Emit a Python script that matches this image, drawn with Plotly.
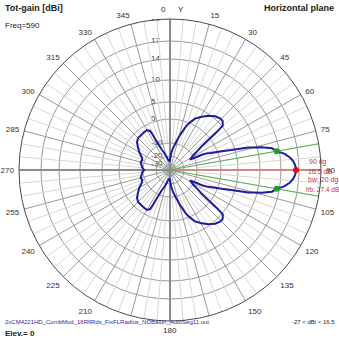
import numpy as np
import plotly.graph_objects as go

# ---- data -----------------------------------------------------------
angle_deg = [0, 4, 8, 12, 16, 20, 23, 26, 30, 35, 40, 44, 47, 50, 51, 52, 53, 55, 58, 61, 62,
             63.5, 64.5, 66, 67, 70, 72, 74, 75, 76, 78, 80, 82, 84, 86, 88, 90,
             92, 94, 96, 98, 100, 102, 104, 105, 106, 108, 110, 113, 114, 115.5, 116.5, 118,
             119, 122, 125, 127, 128, 129, 130, 133, 136, 140, 145, 150, 154, 157, 160, 164,
             168, 172, 176, 180,
             184, 188, 191, 195, 199, 202, 204, 205, 206, 207, 210, 215, 220, 225, 230, 235,
             240, 245, 250, 255, 260, 265, 270, 275, 280, 285, 290, 295, 300, 305, 310, 315,
             320, 325, 330, 333, 334, 335, 336, 338, 341, 345, 349, 352, 356, 360]
gain_dbi = [-25, -18, -13.5, -9.5, -6, -2, 0.3, 1.8, 3.0, 4.5, 5.5, 5.9, 5.9, 5.2, 2.6, -1, -4.6, -7, -10, -12.5, -13.5,
            -10, -6.5, -4, -3, 1.2, 4, 8, 9.3, 10.8, 12.7, 13.5, 14.8, 15.6, 16.1, 16.4, 16.5,
            16.4, 16.1, 15.6, 14.8, 13.5, 12.7, 10.8, 9.3, 8, 4, 1.2, -3, -4, -6.5, -10, -13.5,
            -12.5, -10, -7, -4.6, -1, 2.6, 5.2, 5.9, 5.9, 5.5, 4.5, 3.0, 1.8, 0.3, -2, -6,
            -9.5, -13.5, -18, -25,
            -27, -25, -24, -20, -16.5, -14, -10, -8, -5, -3, -2, -2.2, -2.4, -2.4, -3.3, -5,
            -6.5, -8.2, -9.0, -8.6, -9.2, -9.6, -10.9, -9.6, -9.2, -8.6, -9.0, -8.2, -6.5, -5, -3.3, -2.4,
            -2.4, -2.2, -2, -3, -5, -8, -10, -14, -16.5, -20, -24, -25, -27, -25]

ring_db = [-30, -20, -10, 0, 5, 10, 14, 17, 20]
ring_labels = ["-30", "-20", "-10", "0", "5", "10", "14", "17", "20"]
angle_ticks = list(range(0, 360, 15))
angle_labels = ["" if a in (0, 165, 180, 195) else str(a) for a in angle_ticks]

max_dir = [90]
max_gain = [16.5]
bw_dirs = [80, 100]
bw_gain = [13.5, 13.5]

# ---- scale (EZNEC style log grid) -----------------------------------
ring_r = [6, 14, 27, 51, 68, 90, 111, 129, 151]
R = 151


def to_r(db):
    return np.interp(db, ring_db, ring_r)


W = H = 339
dom_x = [19 / W, 321 / W]
dom_y = [18 / H, 320 / H]

fig = go.Figure()

# light 5-degree radials
lt, lr = [], []
for a in range(0, 360, 5):
    if a % 15:
        lt += [a, a, None]
        lr += [to_r(-10), R, None]
fig.add_trace(go.Scatterpolar(r=lr, theta=lt, mode="lines",
                              line=dict(color="#d6d6d6", width=1), hoverinfo="skip", showlegend=False))

# main axes (thicker)
fig.add_trace(go.Scatterpolar(r=[R, 0, R], theta=[0, 0, 180], mode="lines",
                              line=dict(color="#8c8c8c", width=2), hoverinfo="skip", showlegend=False))
fig.add_trace(go.Scatterpolar(r=[R, 0, R], theta=[270, 270, 90], mode="lines",
                              line=dict(color="#8c8c8c", width=2), hoverinfo="skip", showlegend=False))

# max direction + beamwidth lines
fig.add_trace(go.Scatterpolar(r=[0, R], theta=[max_dir[0]] * 2, mode="lines",
                              line=dict(color="#cc8a8a", width=2), hoverinfo="skip", showlegend=False))
for d in bw_dirs:
    fig.add_trace(go.Scatterpolar(r=[0, R], theta=[d, d], mode="lines",
                                  line=dict(color="#55b055", width=1), hoverinfo="skip", showlegend=False))

# pattern
fig.add_trace(go.Scatterpolar(r=to_r(np.array(gain_dbi)), theta=angle_deg, mode="lines",
                              line=dict(color="#1c1c9c", width=2), showlegend=False))

fig.add_trace(go.Scatterpolar(r=to_r(np.array(bw_gain)), theta=bw_dirs, mode="markers",
                              marker=dict(color="#1fa01f", size=6), showlegend=False))
fig.add_trace(go.Scatterpolar(r=to_r(np.array(max_gain)), theta=max_dir, mode="markers",
                              marker=dict(color="#e01010", size=6), showlegend=False))

# ring labels on an overlaid cartesian frame
fig.add_trace(go.Scatter(x=[-19] * len(ring_r), y=ring_r, mode="text", text=ring_labels,
                         textposition="middle right",
                         textfont=dict(size=8, color="#303030", family="Liberation Sans"),
                         hoverinfo="skip", showlegend=False))

fig.update_layout(
    width=W, height=H, margin=dict(l=0, r=0, t=0, b=0),
    paper_bgcolor="white", plot_bgcolor="rgba(0,0,0,0)",
    xaxis=dict(domain=dom_x, range=[-R, R], visible=False, fixedrange=True),
    yaxis=dict(domain=dom_y, range=[-R, R], visible=False, fixedrange=True),
    polar=dict(
        domain=dict(x=dom_x, y=dom_y),
        bgcolor="rgba(0,0,0,0)",
        angularaxis=dict(rotation=90, direction="clockwise", tickmode="array",
                         tickvals=angle_ticks, ticktext=angle_labels,
                         ticks="outside", ticklen=3, tickcolor="rgba(0,0,0,0)",
                         showgrid=True, gridcolor="#9a9a9a", gridwidth=1,
                         showline=True, linecolor="#4a4a4a", linewidth=1,
                         tickfont=dict(size=8, color="#303030", family="Liberation Sans")),
        radialaxis=dict(range=[0, R], tickvals=ring_r, showticklabels=False, ticks="",
                        showline=False, showgrid=True, gridcolor="#9a9a9a", gridwidth=1),
    ),
    font=dict(family="Liberation Sans"),
)


def ann(text, x, y, size=8, color="#202020", bold=False, xanchor="left"):
    fig.add_annotation(text=f"<b>{text}</b>" if bold else text, x=x / W, y=1 - y / H,
                       xref="paper", yref="paper", xanchor=xanchor, yanchor="middle",
                       showarrow=False, font=dict(size=size, color=color, family="Liberation Sans"))


ann("Tot-gain [dBi]", 3, 8, size=9, bold=True)
ann("Freq=590", 3, 26, size=8)
ann("0", 163, 10, size=8, color="#303030", xanchor="center")
ann("Y", 176, 10, size=8)
ann("180", 170, 330, size=8, color="#303030", xanchor="center")
ann("Horizontal plane", 336, 8, size=9, bold=True, xanchor="right")
ann("2xCM4221HD_CombMod_16RflRds_FixFLRadius_NOBalun_AutoSeg11.out", 3, 322, size=6,
    color="#2a2aa0")
ann("-27 &lt; dBi &lt; 16.5", 337, 322, size=6, xanchor="right")
ann("Elev.= 0", 3, 333, size=8, bold=True)
ann("90 dg", 307, 162, size=7, color="#c83030")
ann("16.5 dB", 306, 171, size=7, color="#c83030")
ann("bw: 20 dg", 306, 180, size=7, color="#c83030")
ann("f/b: 27.4 dB", 304, 189, size=6.5, color="#c83030")

fig.write_html("out.html")
